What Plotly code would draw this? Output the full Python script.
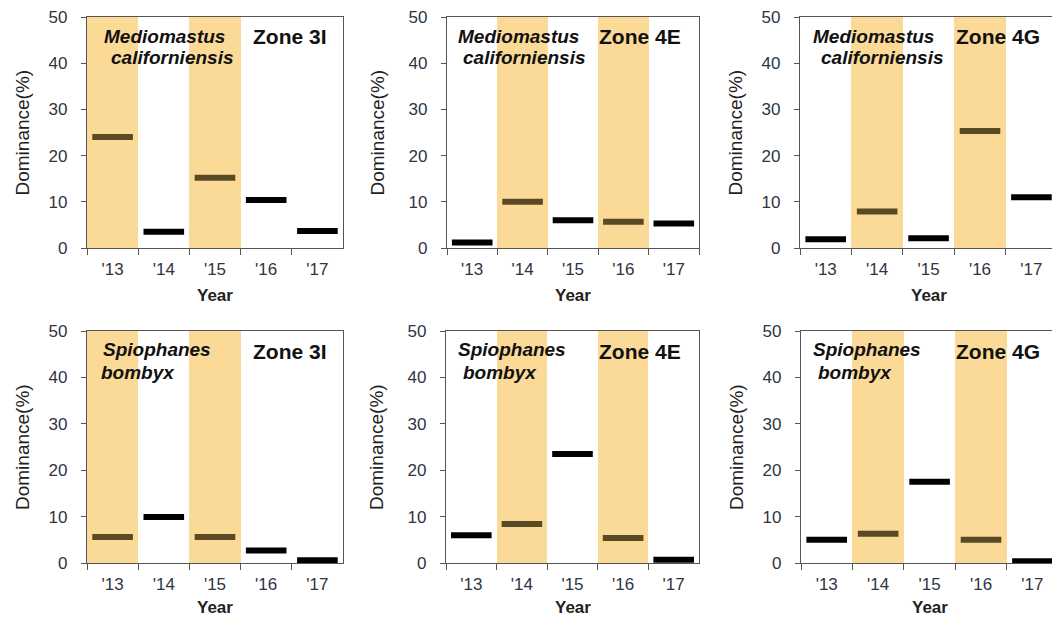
import plotly.graph_objects as go

# ---- data -------------------------------------------------------------
years = ["'13", "'14", "'15", "'16", "'17"]

mediomastus_3I = [24.0, 3.5, 15.2, 10.4, 3.7]
mediomastus_4E = [1.2, 10.0, 6.0, 5.7, 5.3]
mediomastus_4G = [1.9, 7.9, 2.1, 25.3, 11.0]

spiophanes_3I = [5.6, 9.9, 5.6, 2.7, 0.6]
spiophanes_4E = [6.0, 8.4, 23.5, 5.4, 0.7]
spiophanes_4G = [5.0, 6.3, 17.5, 5.0, 0.4]

shaded_3I = ["'13", "'15"]
shaded_4E = ["'14", "'16"]
shaded_4G = ["'14", "'16"]

species_mediomastus = ["Mediomastus", "californiensis"]
species_spiophanes = ["Spiophanes", "bombyx"]

y_max = 50
y_ticks = [0, 10, 20, 30, 40, 50]

panels = [
    (species_mediomastus, "Zone 3I", mediomastus_3I, shaded_3I),
    (species_mediomastus, "Zone 4E", mediomastus_4E, shaded_4E),
    (species_mediomastus, "Zone 4G", mediomastus_4G, shaded_4G),
    (species_spiophanes, "Zone 3I", spiophanes_3I, shaded_3I),
    (species_spiophanes, "Zone 4E", spiophanes_4E, shaded_4E),
    (species_spiophanes, "Zone 4G", spiophanes_4G, shaded_4G),
]

# ---- layout geometry (pixels) ----------------------------------------
W, H = 1052, 617
# left / right pixel edges of each plot area, and the x-range upper bound
col_px = [
    [(87, 343, 4.5), (447, 699, 4.5), (800, 1052, 4.4)],
    [(87, 343, 4.5), (446, 699, 4.5), (801, 1052, 4.38)],
]
# top (value 50) / bottom (value 0) pixel rows
row_px = [(17, 248), (331, 563)]
# label placement: (line1 left, line2 left, zone left) offsets from axis
label_off = [
    [(15, 22, 164), (9, 14, 150), (11, 19, 154)],
    [(14, 12, 164), (10, 15, 151), (10, 15, 153)],
]
label_y = [(36, 58, 36), (349, 372, 351)]
ytitle_off = [65, 70, 65]
year_y = [295, 607]

SHADE = "#FBDA97"
DARK_IN_SHADE = "#5a4a24"
TICK_COLOR = "#2f3542"
AXIS_COLOR = "#555555"
FONT = "Liberation Sans, Arial, sans-serif"

fig = go.Figure()
annotations = []
layout_axes = {}

for idx, (species, zone, values, shaded) in enumerate(panels):
    r, c = divmod(idx, 3)
    n = idx + 1
    xa = "x" if n == 1 else f"x{n}"
    ya = "y" if n == 1 else f"y{n}"
    left, right, xmax = col_px[r][c]
    top, bottom = row_px[r]

    # shaded survey years
    fig.add_trace(go.Bar(
        x=shaded, y=[y_max] * len(shaded), width=1,
        marker=dict(color=SHADE, line=dict(width=0)),
        xaxis=xa, yaxis=ya, showlegend=False, hoverinfo="skip",
    ))
    # dominance markers
    colors = [DARK_IN_SHADE if yr in shaded else "#000000" for yr in years]
    fig.add_trace(go.Scatter(
        x=years, y=values, mode="markers",
        marker=dict(symbol="line-ew", size=29,
                    line=dict(width=6, color=colors)),
        xaxis=xa, yaxis=ya, showlegend=False,
    ))

    layout_axes["xaxis" if n == 1 else f"xaxis{n}"] = dict(
        domain=[left / W, right / W], anchor=ya, automargin=False,
        type="category", categoryorder="array", categoryarray=years,
        range=[-0.5, xmax], tickson="boundaries",
        ticks="outside", ticklen=6, tickcolor=AXIS_COLOR,
        showline=True, linecolor=AXIS_COLOR, linewidth=1.3, mirror=True,
        showgrid=False, zeroline=False,
        tickfont=dict(family=FONT, size=17, color=TICK_COLOR),
        ticklabelstandoff=5, fixedrange=True,
    )
    layout_axes["yaxis" if n == 1 else f"yaxis{n}"] = dict(
        domain=[1 - bottom / H, 1 - top / H], anchor=xa, automargin=False,
        range=[0, y_max], tickvals=y_ticks,
        ticks="outside", ticklen=5, tickcolor=AXIS_COLOR,
        showline=True, linecolor=AXIS_COLOR, linewidth=1.3, mirror=True,
        showgrid=False, zeroline=False,
        tickfont=dict(family=FONT, size=17, color=TICK_COLOR),
        ticklabelstandoff=10, fixedrange=True,
    )

    o1, o2, oz = label_off[r][c]
    y1, y2, yz = label_y[r]
    for text, ox, oy in ((species[0], o1, y1), (species[1], o2, y2)):
        annotations.append(dict(
            text=f"<b><i>{text}</i></b>", xref="paper", yref="paper",
            x=(left + ox) / W, y=1 - oy / H, xanchor="left", yanchor="middle",
            showarrow=False, font=dict(family=FONT, size=19, color="#111111"),
        ))
    annotations.append(dict(
        text=f"<b>{zone}</b>", xref="paper", yref="paper",
        x=(left + oz) / W, y=1 - yz / H, xanchor="left", yanchor="middle",
        showarrow=False, font=dict(family=FONT, size=21, color="#111111"),
    ))
    # axis titles
    annotations.append(dict(
        text="Dominance(%)", xref="paper", yref="paper",
        x=(left - ytitle_off[c]) / W, y=1 - (top + bottom) / 2 / H,
        xanchor="center", yanchor="middle", textangle=-90,
        showarrow=False, font=dict(family=FONT, size=19, color="#222222"),
    ))
    full_right = left + (right - left) * 5 / (xmax + 0.5)
    annotations.append(dict(
        text="<b>Year</b>", xref="paper", yref="paper",
        x=(left + full_right) / 2 / W, y=1 - year_y[r] / H,
        xanchor="center", yanchor="middle",
        showarrow=False, font=dict(family=FONT, size=17, color="#222222"),
    ))

fig.update_layout(
    width=W, height=H, margin=dict(l=0, r=0, t=0, b=0, pad=0),
    paper_bgcolor="white", plot_bgcolor="white",
    bargap=0, annotations=annotations, **layout_axes,
)

fig.write_html("out.html", config={"displayModeBar": False})
